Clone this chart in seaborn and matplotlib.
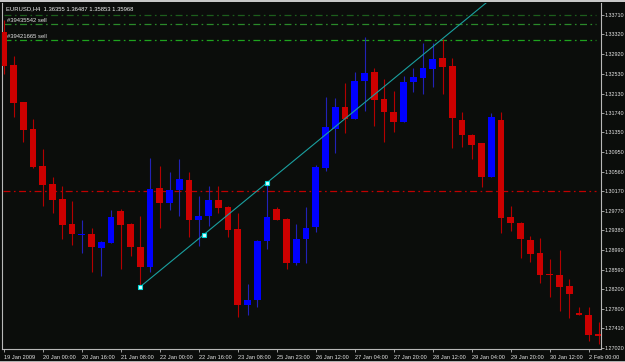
import matplotlib
matplotlib.use("Agg")
import matplotlib.pyplot as plt
from matplotlib.patches import Rectangle
import numpy as np
import pandas as pd
import seaborn as sns

# ---------------- data ----------------
opens = [1.33368, 1.32705, 1.31960, 1.31411, 1.30673, 1.30311, 1.30004, 1.29507, 1.29295, 1.29306,
         1.29018, 1.29131, 1.29774, 1.29501, 1.29050, 1.28636, 1.30225, 1.29935, 1.30191, 1.30392,
         1.29587, 1.29668, 1.29990, 1.29843, 1.29400, 1.27878, 1.27979, 1.29171, 1.29809, 1.29608,
         1.28729, 1.29205, 1.29441, 1.30639, 1.31417, 1.31854, 1.31613, 1.32389, 1.32570, 1.32015,
         1.31765, 1.31564, 1.32357, 1.32449, 1.32624, 1.32839, 1.32684, 1.31598, 1.31297, 1.31130,
         1.30446, 1.31598, 1.29642, 1.29521, 1.29175, 1.28918, 1.28491, 1.28481, 1.28260, 1.27723,
         1.27677, 1.27289]
highs = [1.33600, 1.32886, 1.31965, 1.31619, 1.31015, 1.30458, 1.30271, 1.29970, 1.29587, 1.29421,
         1.29165, 1.29789, 1.29809, 1.29533, 1.29668, 1.30840, 1.30673, 1.30559, 1.30814, 1.30559,
         1.30070, 1.30277, 1.30271, 1.29869, 1.29734, 1.28300, 1.29185, 1.30338, 1.29843, 1.29622,
         1.29507, 1.29855, 1.30694, 1.32055, 1.32035, 1.32337, 1.32570, 1.33262, 1.32638, 1.32417,
         1.32182, 1.32483, 1.32638, 1.33141, 1.33141, 1.33221, 1.32850, 1.31765, 1.31317, 1.31142,
         1.31733, 1.31765, 1.29869, 1.29553, 1.29266, 1.29226, 1.28797, 1.28984, 1.28395, 1.27844,
         1.27844, 1.27542]
lows = [1.32524, 1.31653, 1.31162, 1.30640, 1.29875, 1.29722, 1.29199, 1.29091, 1.28930, 1.28548,
        1.28467, 1.29125, 1.28602, 1.28870, 1.28246, 1.28548, 1.29421, 1.29789, 1.29668, 1.29240,
        1.29065, 1.29467, 1.29734, 1.29240, 1.27643, 1.27677, 1.27844, 1.28998, 1.29580, 1.28596,
        1.28683, 1.28717, 1.29352, 1.30579, 1.30941, 1.31343, 1.31609, 1.31786, 1.31478, 1.31162,
        1.31363, 1.31560, 1.32168, 1.32121, 1.32268, 1.32121, 1.31029, 1.31062, 1.30808, 1.30257,
        1.30442, 1.29332, 1.29372, 1.28817, 1.28749, 1.28327, 1.28033, 1.27764, 1.27611, 1.27667,
        1.27160, 1.27094]
closes = [1.32684, 1.31946, 1.31397, 1.30647, 1.30291, 1.29990, 1.29481, 1.29300, 1.29305, 1.29038,
          1.29145, 1.29654, 1.29487, 1.29038, 1.28636, 1.30217, 1.29923, 1.30191, 1.30406, 1.29587,
          1.29668, 1.29990, 1.29835, 1.29386, 1.27878, 1.27979, 1.29171, 1.29654, 1.29587, 1.28729,
          1.29205, 1.29421, 1.30659, 1.31452, 1.31854, 1.31613, 1.32389, 1.32550, 1.32001, 1.31753,
          1.31564, 1.32369, 1.32457, 1.32638, 1.32825, 1.32670, 1.31633, 1.31291, 1.31096, 1.30446,
          1.31653, 1.29634, 1.29521, 1.29205, 1.28904, 1.28481, 1.28486, 1.28234, 1.28099, 1.27671,
          1.27275, 1.27261]

price_ticks = [1.33710, 1.33320, 1.32920, 1.32530, 1.32130, 1.31740, 1.31350, 1.30950, 1.30560,
               1.30170, 1.29770, 1.29380, 1.28990, 1.28590, 1.28200, 1.27800, 1.27410, 1.27020]
date_labels = ["19 Jan 2009", "20 Jan 00:00", "20 Jan 16:00", "21 Jan 08:00", "22 Jan 00:00",
               "22 Jan 16:00", "23 Jan 08:00", "25 Jan 23:00", "26 Jan 12:00", "27 Jan 04:00",
               "27 Jan 20:00", "28 Jan 12:00", "29 Jan 04:00", "29 Jan 20:00", "30 Jan 12:00",
               "2 Feb 00:00"]
date_tick_bars = list(range(0, 61, 4))

red_level = 1.30175
green_levels = [1.33716, 1.33529, 1.33207]
order_labels = ["#39435542 sell", "#39421665 sell"]
title_text = "EURUSD,H4  1.36355 1.36487 1.35853 1.35968"

trend_start_bar, trend_end_bar = 14, 27

# ---------------- style ----------------
BG = "#0b0d0b"
sns.set_theme(style="dark", rc={"axes.facecolor": BG, "figure.facecolor": BG})
plt.rcParams["font.family"] = ["Liberation Sans", "DejaVu Sans"]
plt.rcParams["lines.scale_dashes"] = False

df = pd.DataFrame({"open": opens, "high": highs, "low": lows, "close": closes})
df["bar"] = np.arange(len(df))
df["up"] = df["close"] >= df["open"]

W, H = 625, 362
fig = plt.figure(figsize=(W / 100, H / 100), dpi=100)
ax = fig.add_axes([2 / W, 13 / H, 599 / W, 346 / H])
ax.set_facecolor(BG)

UP_BODY, DN_BODY = "#0000ff", "#cc0000"
UP_WICK, DN_WICK = "#2222b8", "#b40000"

# wicks
for up, wc in ((True, UP_WICK), (False, DN_WICK)):
    sub = df[df["up"] == up]
    ax.vlines(sub["bar"], sub["low"], sub["high"], colors=wc, linewidth=0.8, zorder=2)

# bodies
body_h = (df["close"] - df["open"]).abs().clip(lower=0.00008)
body_b = np.minimum(df["open"], df["close"])
ax.bar(df["bar"], body_h, bottom=body_b, width=0.68,
       color=np.where(df["up"], UP_BODY, DN_BODY), linewidth=0, zorder=3)

# horizontal levels
ax.axhline(red_level, xmin=0.002, xmax=0.992, color="#c00000", lw=0.9,
           dashes=(5, 2.5, 1.2, 2.5), zorder=1)
green_cols = ["#1c5e1c", "#2a8a2a", "#1ea41e"]
for lv, gc in zip(green_levels, green_cols):
    ax.axhline(lv, xmin=0.004, xmax=0.992, color=gc, lw=0.9,
               dashes=(5, 2.5, 1.2, 2.5), zorder=1)

# trend line (ray)
x0, y0 = trend_start_bar, df.loc[trend_start_bar, "low"]
x1, y1 = trend_end_bar, df.loc[trend_end_bar, "high"]
slope = (y1 - y0) / (x1 - x0)
xe = 52
sns.lineplot(x=[x0, xe], y=[y0, y0 + slope * (xe - x0)], ax=ax, color="#1aa0a0",
             lw=0.8, zorder=4)
mx = [x0, (x0 + x1) / 2, x1]
my = [y0, (y0 + y1) / 2, y1]
ax.plot(mx, my, ls="none", marker="s", ms=3.2, mfc="#d8ffff", mec="#00d8d8", mew=0.8, zorder=5)

# limits
ax.set_xlim(-0.185, 61.25)
ax.set_ylim(1.26993, 1.33951)

# axes styling
for s in ("left", "bottom", "right"):
    ax.spines[s].set_visible(True)
    ax.spines[s].set_color("#b8b8b8")
    ax.spines[s].set_linewidth(0.8)
ax.spines["top"].set_visible(False)
ax.grid(False)

ax.yaxis.tick_right()
ax.set_yticks(price_ticks)
ax.set_yticklabels([f"{v:.5f}" for v in price_ticks])
ax.tick_params(axis="y", direction="out", length=1.8, width=0.6, color="#b8b8b8",
               labelsize=3.9, labelcolor="#e4e4e4", pad=1.0, right=True, left=False)
ax.set_xticks(date_tick_bars)
ax.set_xticklabels(date_labels, ha="left")
ax.tick_params(axis="x", direction="out", length=2.5, width=0.6, color="#b8b8b8",
               labelsize=4.1, labelcolor="#e4e4e4", pad=1.5, bottom=True)
ax.set_xlabel("")
ax.set_ylabel("")

# window borders
fig.add_artist(Rectangle((0, 1 - 2 / H), 1, 2 / H, transform=fig.transFigure,
                         color="#c8c8c8", lw=0))
fig.add_artist(Rectangle((0, 0), 1, 1.5 / H, transform=fig.transFigure,
                         color="#b0b0b0", lw=0))

# texts
fig.text(6 / W, 1 - 8.5 / H, title_text, color="#f0f0f0", fontsize=4.2, va="center", ha="left")
fig.text(7 / W, 1 - 20 / H, order_labels[0], color="#e4e4e4", fontsize=4.2, va="center", ha="left")
fig.text(7 / W, 1 - 37 / H, order_labels[1], color="#e4e4e4", fontsize=4.2, va="center", ha="left")

fig.savefig("out.png", dpi=100, facecolor=BG)
